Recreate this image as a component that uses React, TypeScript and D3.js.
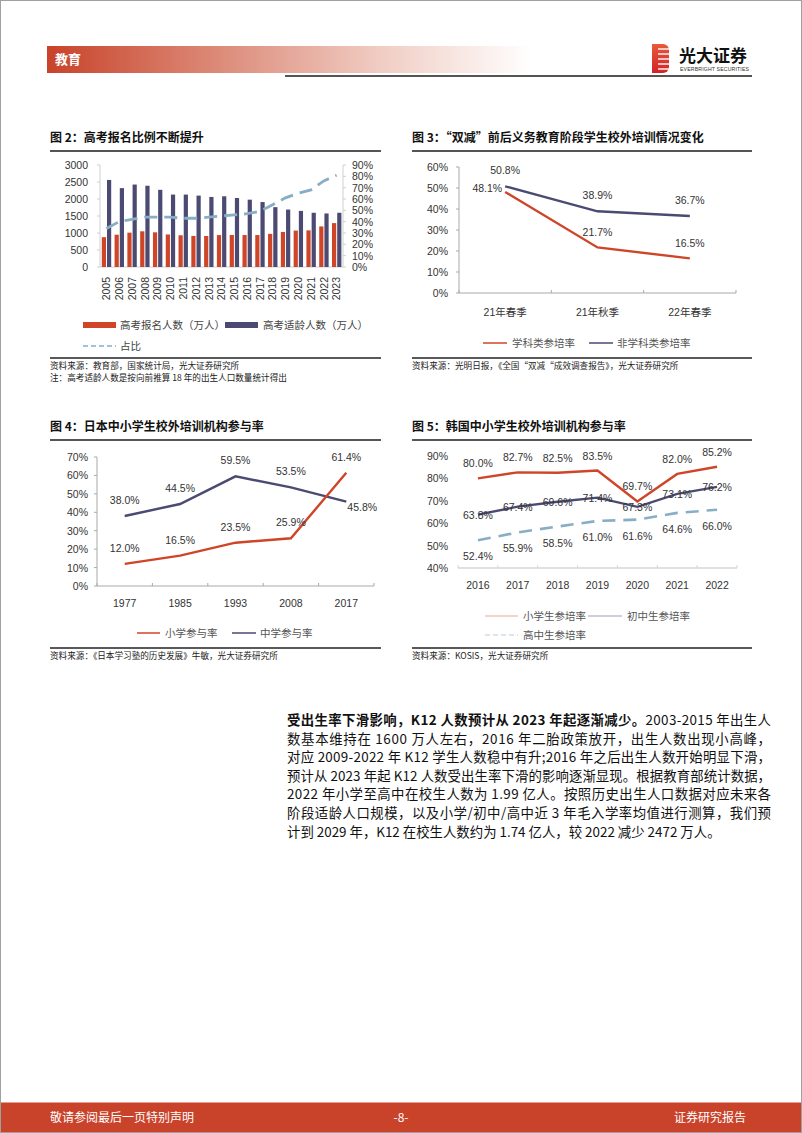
import React from "react";
import * as d3 from "d3";

// ---------- DATA ----------
const years2 = ["2005","2006","2007","2008","2009","2010","2011","2012","2013","2014","2015","2016","2017","2018","2019","2020","2021","2022","2023"];
const applicants2 = [877, 950, 1010, 1050, 1020, 957, 933, 915, 912, 939, 942, 940, 940, 975, 1031, 1071, 1078, 1193, 1291];
const ageCohort2 = [2560, 2320, 2425, 2390, 2270, 2130, 2130, 2100, 2060, 2080, 2030, 1980, 1910, 1760, 1690, 1650, 1595, 1575, 1595];
const ratio2 = [34, 40, 42, 44, 44, 44, 43, 43, 44, 45, 46, 47, 49, 55, 61, 65, 68, 76, 81];
const leftTicks2 = [0, 500, 1000, 1500, 2000, 2500, 3000];
const rightTicks2 = [0, 10, 20, 30, 40, 50, 60, 70, 80, 90];

const cats3 = ["21年春季", "21年秋季", "22年春季"];
const subject3 = [48.1, 21.7, 16.5];
const nonSubject3 = [50.8, 38.9, 36.7];
const ticks3 = [0, 10, 20, 30, 40, 50, 60];

const years4 = ["1977", "1985", "1993", "2008", "2017"];
const primary4 = [12.0, 16.5, 23.5, 25.9, 61.4];
const middle4 = [38.0, 44.5, 59.5, 53.5, 45.8];
const ticks4 = [0, 10, 20, 30, 40, 50, 60, 70];

const years5 = ["2016", "2017", "2018", "2019", "2020", "2021", "2022"];
const elem5 = [80.0, 82.7, 82.5, 83.5, 69.7, 82.0, 85.2];
const middle5 = [63.8, 67.4, 69.6, 71.4, 67.3, 73.1, 76.2];
const high5 = [52.4, 55.9, 58.5, 61.0, 61.6, 64.6, 66.0];
const ticks5 = [40, 50, 60, 70, 80, 90];

const paraBold = "受出生率下滑影响，K12 人数预计从 2023 年起逐渐减少。";
const paraLines = [
  "2003-2015 年出生人",
  "数基本维持在 1600 万人左右，2016 年二胎政策放开，出生人数出现小高峰，",
  "对应 2009-2022 年 K12 学生人数稳中有升;2016 年之后出生人数开始明显下滑，",
  "预计从 2023 年起 K12 人数受出生率下滑的影响逐渐显现。根据教育部统计数据，",
  "2022 年小学至高中在校生人数为 1.99 亿人。按照历史出生人口数据对应未来各",
  "阶段适龄人口规模，以及小学/初中/高中近 3 年毛入学率均值进行测算，我们预",
  "计到 2029 年，K12 在校生人数约为 1.74 亿人，较 2022 减少 2472 万人。",
];

// ---------- STYLE ----------
const SANS = "'Liberation Sans', Arial, 'Noto Sans CJK SC', sans-serif";
const CJK = "'Noto Sans CJK SC', 'Noto Sans', sans-serif";
const RED = "#CF4527";
const NAVY = "#4B4A72";
const LBLUE = "#88AEC6";
const AXIS = "#A9A9A9";
const TXT = "#333";

const fmt = (v: number) => v.toFixed(1) + "%";

function Title({ x, y, w, text }: { x: number; y: number; w: number; text: string }) {
  return (
    <g>
      <text x={x} y={y} fontFamily={CJK} fontWeight={700} fontSize={12} fill="#111">{text}</text>
      <line x1={x} x2={x + w} y1={y + 9} y2={y + 9} stroke="#555" strokeWidth={2} />
    </g>
  );
}

function Source({ x, y, w, lines }: { x: number; y: number; w: number; lines: string[] }) {
  return (
    <g>
      <line x1={x} x2={x + w} y1={y} y2={y} stroke="#222" strokeWidth={1.5} />
      {lines.map((l, i) => (
        <text key={i} x={x} y={y + 11 + i * 11.5} fontFamily={CJK} fontSize={8.6} fill="#222">{l}</text>
      ))}
    </g>
  );
}

function Fig2() {
  const x = d3.scaleBand<string>().domain(years2).range([100, 343]);
  const yL = d3.scaleLinear().domain([0, 3000]).range([267, 165]);
  const yR = d3.scaleLinear().domain([0, 90]).range([267, 165]);
  const bw = 4.2;
  const cx = (d: string) => (x(d) as number) + x.bandwidth() / 2;
  const line = d3.line<number>().x((_, i) => cx(years2[i])).y((v) => yR(v));
  return (
    <g>
      <Title x={50} y={142} w={331} text="图 2：高考报名比例不断提升" />
      <line x1={100} x2={100} y1={165} y2={267} stroke="#D0D0D0" />
      <line x1={343} x2={343} y1={165} y2={267} stroke="#D0D0D0" />
      <line x1={100} x2={343} y1={267} y2={267} stroke="#D0D0D0" />
      {leftTicks2.map((t) => (
        <g key={t}>
          <line x1={97} x2={100} y1={yL(t)} y2={yL(t)} stroke="#D0D0D0" />
          <text x={88} y={yL(t) + 4} textAnchor="end" fontFamily={SANS} fontSize={10.5} fill={TXT}>{t}</text>
        </g>
      ))}
      {rightTicks2.map((t) => (
        <g key={t}>
          <line x1={343} x2={346} y1={yR(t)} y2={yR(t)} stroke="#D0D0D0" />
          <text x={352} y={yR(t) + 4} fontFamily={SANS} fontSize={10.5} fill={TXT}>{t + "%"}</text>
        </g>
      ))}
      {years2.map((yr, i) => (
        <g key={yr}>
          <rect x={cx(yr) - bw - 0.4} y={yL(applicants2[i])} width={bw} height={yL(0) - yL(applicants2[i])} fill={RED} />
          <rect x={cx(yr) + 0.6} y={yL(ageCohort2[i])} width={bw} height={yL(0) - yL(ageCohort2[i])} fill={NAVY} />
          <text transform={`translate(${cx(yr) + 3.8},277) rotate(-90)`} textAnchor="end" fontFamily={SANS} fontSize={10.5} fill={TXT}>{yr}</text>
        </g>
      ))}
      <path d={line(ratio2) || ""} fill="none" stroke={LBLUE} strokeWidth={2.8} strokeDasharray="13 7" />
      {/* legend */}
      <rect x={83} y={322} width={33} height={6} fill={RED} />
      <text x={120} y={329} fontFamily={CJK} fontSize={10.5} fill="#444">高考报名人数（万人）</text>
      <rect x={225} y={322} width={33} height={6} fill={NAVY} />
      <text x={263} y={329} fontFamily={CJK} fontSize={10.5} fill="#444">高考适龄人数（万人）</text>
      <line x1={83} x2={116} y1={346} y2={346} stroke={LBLUE} strokeWidth={1.5} strokeDasharray="5 3" />
      <text x={120} y={350} fontFamily={CJK} fontSize={10.5} fill="#444">占比</text>
      <Source x={50} y={358} w={331} lines={["资料来源：教育部，国家统计局，光大证券研究所", "注：高考适龄人数是按向前推算 18 年的出生人口数量统计得出"]} />
    </g>
  );
}

function Fig3() {
  const x = d3.scaleBand<string>().domain(cats3).range([459, 736]);
  const y = d3.scaleLinear().domain([0, 60]).range([293, 167]);
  const cx = (d: string) => (x(d) as number) + x.bandwidth() / 2;
  const line = d3.line<number>().x((_, i) => cx(cats3[i])).y((v) => y(v));
  const edges = [0, 1, 2, 3].map((i) => 459 + i * x.bandwidth());
  return (
    <g>
      <Title x={412} y={142} w={340} text="图 3：“双减”前后义务教育阶段学生校外培训情况变化" />
      <line x1={459} x2={459} y1={167} y2={293} stroke={AXIS} />
      <line x1={459} x2={736} y1={293} y2={293} stroke={AXIS} />
      {ticks3.map((t) => (
        <g key={t}>
          <line x1={456} x2={459} y1={y(t)} y2={y(t)} stroke={AXIS} />
          <text x={448} y={y(t) + 4} textAnchor="end" fontFamily={SANS} fontSize={10.5} fill={TXT}>{t + "%"}</text>
        </g>
      ))}
      {edges.map((e, i) => (
        <line key={i} x1={e} x2={e} y1={290} y2={293} stroke={AXIS} />
      ))}
      {cats3.map((c) => (
        <text key={c} x={cx(c)} y={316} textAnchor="middle" fontFamily={SANS} fontSize={10.5} fill={TXT}>{c}</text>
      ))}
      <path d={line(nonSubject3) || ""} fill="none" stroke={NAVY} strokeWidth={2.4} />
      <path d={line(subject3) || ""} fill="none" stroke={RED} strokeWidth={2.4} />
      {nonSubject3.map((v, i) => (
        <text key={"n" + i} x={cx(cats3[i])} y={y(v) - 12} textAnchor="middle" fontFamily={SANS} fontSize={10.5} fill={TXT}>{fmt(v)}</text>
      ))}
      {subject3.map((v, i) =>
        i === 0 ? (
          <text key={"s" + i} x={cx(cats3[i]) - 3} y={y(v) + 0} textAnchor="end" fontFamily={SANS} fontSize={10.5} fill={TXT}>{fmt(v)}</text>
        ) : (
          <text key={"s" + i} x={cx(cats3[i])} y={y(v) - 11} textAnchor="middle" fontFamily={SANS} fontSize={10.5} fill={TXT}>{fmt(v)}</text>
        )
      )}
      <line x1={483} x2={507} y1={343} y2={343} stroke={RED} strokeWidth={1.5} />
      <text x={512} y={347} fontFamily={CJK} fontSize={10.5} fill="#555">学科类参培率</text>
      <line x1={589} x2={613} y1={343} y2={343} stroke={NAVY} strokeWidth={1.5} />
      <text x={617} y={347} fontFamily={CJK} fontSize={10.5} fill="#555">非学科类参培率</text>
      <Source x={412} y={358} w={340} lines={["资料来源：光明日报，《全国“双减“成效调查报告》，光大证券研究所"]} />
    </g>
  );
}

function Fig4() {
  const x = d3.scaleBand<string>().domain(years4).range([97, 374]);
  const y = d3.scaleLinear().domain([0, 70]).range([586, 457]);
  const cx = (d: string) => (x(d) as number) + x.bandwidth() / 2;
  const line = d3.line<number>().x((_, i) => cx(years4[i])).y((v) => y(v));
  const edges = d3.range(years4.length + 1).map((i) => 97 + i * x.bandwidth());
  return (
    <g>
      <Title x={50} y={431} w={331} text="图 4：日本中小学生校外培训机构参与率" />
      <line x1={97} x2={97} y1={457} y2={586} stroke={AXIS} />
      <line x1={97} x2={374} y1={586} y2={586} stroke={AXIS} />
      {ticks4.map((t) => (
        <g key={t}>
          <line x1={94} x2={97} y1={y(t)} y2={y(t)} stroke={AXIS} />
          <text x={88} y={y(t) + 4} textAnchor="end" fontFamily={SANS} fontSize={10.5} fill={TXT}>{t + "%"}</text>
        </g>
      ))}
      {edges.map((e, i) => (
        <line key={i} x1={e} x2={e} y1={583} y2={586} stroke={AXIS} />
      ))}
      {years4.map((c) => (
        <text key={c} x={cx(c)} y={607} textAnchor="middle" fontFamily={SANS} fontSize={10.5} fill={TXT}>{c}</text>
      ))}
      <path d={line(middle4) || ""} fill="none" stroke={NAVY} strokeWidth={2.4} />
      <path d={line(primary4) || ""} fill="none" stroke={RED} strokeWidth={2.4} />
      {middle4.map((v, i) =>
        i === 4 ? (
          <text key={"m" + i} x={cx(years4[i]) + 1} y={y(v) + 9} fontFamily={SANS} fontSize={10.5} fill={TXT}>{fmt(v)}</text>
        ) : (
          <text key={"m" + i} x={cx(years4[i])} y={y(v) - 12} textAnchor="middle" fontFamily={SANS} fontSize={10.5} fill={TXT}>{fmt(v)}</text>
        )
      )}
      {primary4.map((v, i) => (
        <text key={"p" + i} x={cx(years4[i])} y={y(v) - 12} textAnchor="middle" fontFamily={SANS} fontSize={10.5} fill={TXT}>{fmt(v)}</text>
      ))}
      <line x1={137} x2={160} y1={633} y2={633} stroke={RED} strokeWidth={1.5} />
      <text x={165} y={637} fontFamily={CJK} fontSize={10.5} fill="#555">小学参与率</text>
      <line x1={232} x2={256} y1={633} y2={633} stroke={NAVY} strokeWidth={1.5} />
      <text x={260} y={637} fontFamily={CJK} fontSize={10.5} fill="#555">中学参与率</text>
      <Source x={50} y={648} w={331} lines={["资料来源：《日本学习塾的历史发展》牛敏，光大证券研究所"]} />
    </g>
  );
}

function Fig5() {
  const x = d3.scaleBand<string>().domain(years5).range([458, 737]);
  const y = d3.scaleLinear().domain([40, 90]).range([568, 456]);
  const cx = (d: string) => (x(d) as number) + x.bandwidth() / 2;
  const line = d3.line<number>().x((_, i) => cx(years5[i])).y((v) => y(v));
  const edges = d3.range(years5.length + 1).map((i) => 458 + i * x.bandwidth());
  return (
    <g>
      <Title x={412} y={431} w={340} text="图 5：韩国中小学生校外培训机构参与率" />
      <line x1={458} x2={737} y1={568} y2={568} stroke="#D6D6D6" strokeWidth={1.5} />
      {edges.map((e, i) => (
        <line key={i} x1={e} x2={e} y1={565} y2={568} stroke="#D6D6D6" />
      ))}
      {ticks5.map((t) => (
        <text key={t} x={448} y={y(t) + 4} textAnchor="end" fontFamily={SANS} fontSize={10.5} fill={TXT}>{t + "%"}</text>
      ))}
      {years5.map((c) => (
        <text key={c} x={cx(c)} y={589} textAnchor="middle" fontFamily={SANS} fontSize={10.5} fill={TXT}>{c}</text>
      ))}
      <path d={line(high5) || ""} fill="none" stroke={LBLUE} strokeWidth={2.6} strokeDasharray="13 8" />
      <path d={line(middle5) || ""} fill="none" stroke={NAVY} strokeWidth={2.4} />
      <path d={line(elem5) || ""} fill="none" stroke={RED} strokeWidth={2.4} />
      {elem5.map((v, i) => (
        <text key={"e" + i} x={cx(years5[i])} y={y(v) - 11} textAnchor="middle" fontFamily={SANS} fontSize={10.5} fill={TXT}>{fmt(v)}</text>
      ))}
      {middle5.map((v, i) => (
        <text key={"m" + i} x={cx(years5[i])} y={y(v) + 4} textAnchor="middle" fontFamily={SANS} fontSize={10.5} fill={TXT}>{fmt(v)}</text>
      ))}
      {high5.map((v, i) => (
        <text key={"h" + i} x={cx(years5[i])} y={y(v) + 20} textAnchor="middle" fontFamily={SANS} fontSize={10.5} fill={TXT}>{fmt(v)}</text>
      ))}
      <line x1={485} x2={518} y1={616} y2={616} stroke="#E9A898" strokeWidth={1.2} />
      <text x={523} y={620} fontFamily={CJK} fontSize={10.5} fill="#555">小学生参培率</text>
      <line x1={588} x2={622} y1={616} y2={616} stroke="#9FA0B4" strokeWidth={1.2} />
      <text x={627} y={620} fontFamily={CJK} fontSize={10.5} fill="#555">初中生参培率</text>
      <line x1={485} x2={518} y1={635} y2={635} stroke="#B9CCDA" strokeWidth={1.2} strokeDasharray="5 3" />
      <text x={523} y={639} fontFamily={CJK} fontSize={10.5} fill="#555">高中生参培率</text>
      <Source x={412} y={648} w={340} lines={["资料来源：KOSIS，光大证券研究所"]} />
    </g>
  );
}

function Header() {
  return (
    <g>
      <defs>
        <linearGradient id="hdr" x1="0" x2="1" y1="0" y2="0">
          <stop offset="0" stopColor="#C8432A" />
          <stop offset="0.35" stopColor="#DC8A78" />
          <stop offset="0.7" stopColor="#F1CFC6" />
          <stop offset="1" stopColor="#FFFFFF" />
        </linearGradient>
        <linearGradient id="logo" x1="0" x2="0" y1="0" y2="1">
          <stop offset="0" stopColor="#E85A3A" />
          <stop offset="1" stopColor="#D2232A" />
        </linearGradient>
      </defs>
      <rect x={47} y={46} width={485} height={27} fill="url(#hdr)" />
      <text x={55} y={64} fontFamily={CJK} fontWeight={700} fontSize={13} fill="#fff">教育</text>
      <line x1={285} x2={752} y1={76} y2={76} stroke="#555" strokeWidth={2} />
      <path d="M652,44 h11 a6,6 0 0 1 6,6 v17 a6,6 0 0 1 -6,6 h-11 z" fill="url(#logo)" />
      {[49, 54, 59, 64, 69].map((yy) => (
        <line key={yy} x1={658} x2={670} y1={yy} y2={yy} stroke="#fff" strokeWidth={1.4} />
      ))}
      <text x={679} y={62} fontFamily={CJK} fontWeight={700} fontSize={17} fill="#111">光大证券</text>
      <text x={680} y={71} fontFamily={SANS} fontSize={5.2} fill="#333" textLength={69} lengthAdjust="spacing">EVERBRIGHT SECURITIES</text>
    </g>
  );
}

function Paragraph() {
  const x0 = 287;
  const w = 484;
  const ys = paraLines.map((_, i) => 725 + i * 18.6);
  return (
    <g fontFamily={CJK} fontSize={13.4} fill="#111">
      <text x={x0} y={ys[0]} textLength={w} lengthAdjust="spacing">
        <tspan fontWeight={700}>{paraBold}</tspan>
        <tspan>{paraLines[0]}</tspan>
      </text>
      {paraLines.slice(1).map((l, i) =>
        i + 1 < paraLines.length - 1 ? (
          <text key={i} x={x0} y={ys[i + 1]} textLength={w} lengthAdjust="spacing">{l}</text>
        ) : (
          <text key={i} x={x0} y={ys[i + 1]}>{l}</text>
        )
      )}
    </g>
  );
}

function Footer() {
  return (
    <g>
      <rect x={0} y={1102} width={802} height={31} fill="#C9432B" />
      <line x1={0} x2={802} y1={1102.5} y2={1102.5} stroke="#E7A08F" />
      <text x={50} y={1122} fontFamily={CJK} fontSize={12} fill="#fff">敬请参阅最后一页特别声明</text>
      <text x={401} y={1122} textAnchor="middle" fontFamily={CJK} fontSize={12} fill="#fff">-8-</text>
      <text x={746} y={1122} textAnchor="end" fontFamily={CJK} fontSize={12} fill="#fff">证券研究报告</text>
    </g>
  );
}

export default function App() {
  return (
    <svg width={802} height={1133} viewBox="0 0 802 1133" style={{ position: "absolute", left: 0, top: 0, display: "block", background: "#fff" }}>
      <rect x={0} y={0} width={802} height={1133} fill="#fff" />
      <Header />
      <Fig2 />
      <Fig3 />
      <Fig4 />
      <Fig5 />
      <Paragraph />
      <Footer />
      <rect x={0.5} y={0.5} width={801} height={1132} fill="none" stroke="#A0A0A0" />
    </svg>
  );
}
